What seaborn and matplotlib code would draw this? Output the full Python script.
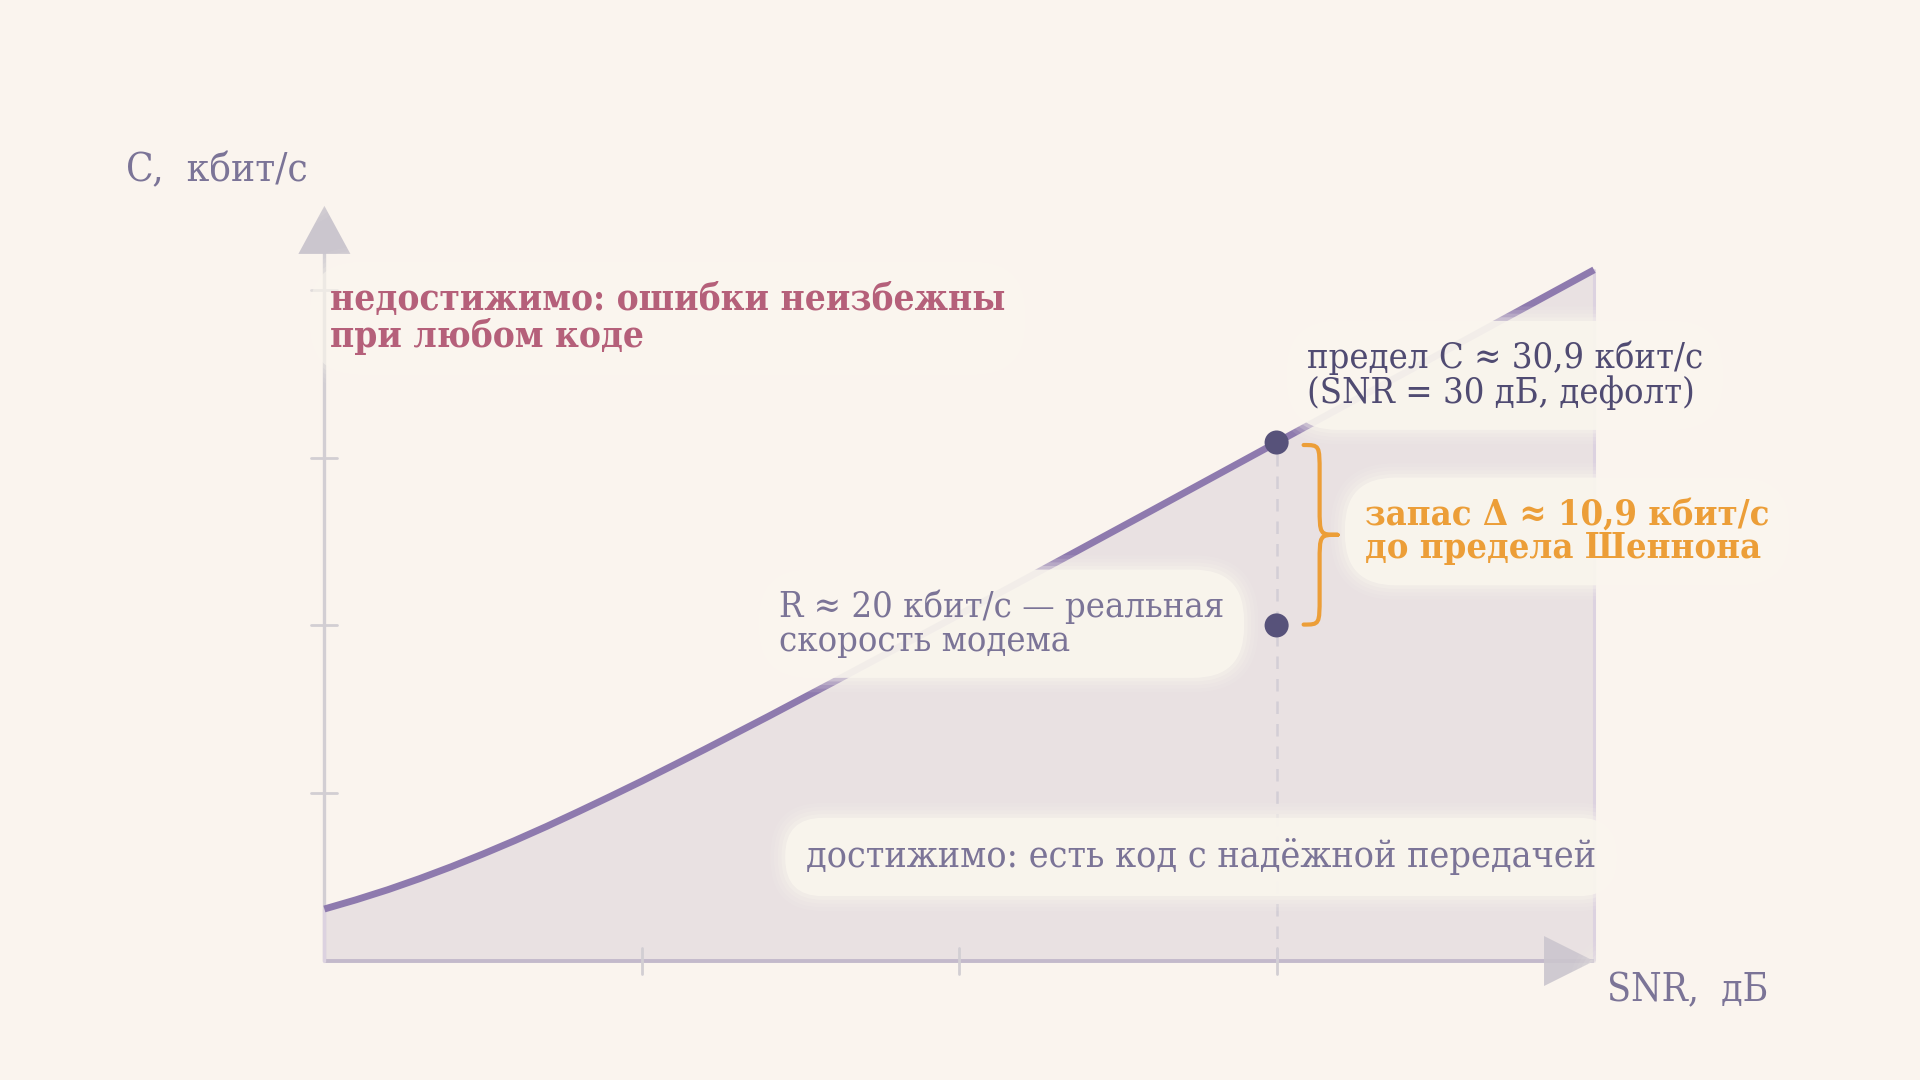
#!/usr/bin/env python3
"""Shannon limit sketch: capacity C vs SNR with the real modem rate marked."""
import matplotlib
matplotlib.use('Agg')
import numpy as np
import pandas as pd
import seaborn as sns
import matplotlib.pyplot as plt
from matplotlib.patches import Polygon, PathPatch
from matplotlib.path import Path

# data
snr_db = [0, 1, 2, 3, 4, 5, 6, 7, 8, 9, 10, 11, 12, 13, 14, 15, 16, 18, 20, 22, 24,
          26, 28, 30, 32, 34, 36, 38, 40]
capacity_kbps = [3.10, 3.65, 4.25, 4.91, 5.62, 6.38, 7.18, 8.02, 8.90, 9.80, 10.72, 11.67,
                 12.63, 13.61, 14.59, 15.59, 16.59, 18.61, 20.64, 22.68, 24.73, 26.78,
                 28.84, 30.90, 32.96, 35.01, 37.07, 39.13, 41.19]
x_ticks = [10, 20, 30]
y_ticks = [10, 20, 30, 40]
point_snr = [30, 30]
point_rate = [30.9, 20.0]
snr_default = 30
c_default = 30.9
r_modem = 20.0

BG = '#FAF4EE'
GLOW = '#FAF6EE'
FILL = '#E9E1E2'
FILL_EDGE = '#DCD2E0'
CURVE = '#8E7AAE'
DOT = '#57527A'
AXIS = '#D2CED3'
XAXIS = '#C3B9CB'
ARROW = '#CBC6CE'
RED = '#B5607A'
ORANGE = '#EC9E38'
MUTED = '#7B7497'
DARK = '#504B72'

sns.set_theme(style='white', rc={'figure.facecolor': BG, 'axes.facecolor': BG})
plt.rcParams['font.family'] = ['DejaVu Serif', 'DejaVu Sans']
plt.rcParams['font.stretch'] = 'condensed'

fig = plt.figure(figsize=(19.2, 10.8), dpi=100)
ax = fig.add_axes([0, 0, 1, 1])
ax.set_xlim(-10.22, 50.27)
ax.set_ylim(-7.09, 57.27)
ax.axis('off')

# pixel -> data helpers for decorations
PX_X = 31.74
PX_Y = 16.78


def dx(px):
    return px / PX_X


def dy(px):
    return px / PX_Y


df = pd.DataFrame({'snr': snr_db, 'c': capacity_kbps})

# achievable region
ax.fill_between(df['snr'], 0, df['c'], color=FILL, lw=0, zorder=1)
ax.plot([snr_db[-1], snr_db[-1]], [0, capacity_kbps[-1]], color=FILL_EDGE, lw=2.2, zorder=1.5)

# axes
y_top = 45.0
ax.plot([0, 0], [0, y_top - dy(40)], color=AXIS, lw=2.4, zorder=2, solid_capstyle='butt')
ax.plot([0, 0], [0, capacity_kbps[0]], color=FILL_EDGE, lw=2.4, zorder=2.1)
ax.add_patch(Polygon([(0, y_top), (-dx(26), y_top - dy(48)), (dx(26), y_top - dy(48))],
                     closed=True, color=ARROW, lw=0, zorder=2))
ax.plot([0, snr_db[-1]], [0, 0], color=XAXIS, lw=2.8, zorder=2, solid_capstyle='butt')
x_tip = snr_db[-1]
ax.add_patch(Polygon([(x_tip, 0), (x_tip - dx(50), dy(25)), (x_tip - dx(50), -dy(25))],
                     closed=True, color=ARROW, alpha=0.9, lw=0, zorder=2.2))
for t in y_ticks:
    ax.plot([-dx(13), dx(13)], [t, t], color=AXIS, lw=2, zorder=2)
for t in x_ticks:
    ax.plot([t, t], [-dy(13), dy(13)], color=AXIS, lw=2, zorder=2)

# vertical guide at default SNR
ax.plot([snr_default, snr_default], [0, c_default], color='#D3CED6', lw=1.8,
        linestyle=(0, (5, 4)), zorder=2)

# capacity curve
sns.lineplot(data=df, x='snr', y='c', ax=ax, color=CURVE, lw=5, zorder=3,
             solid_capstyle='butt', legend=False)
ax.set_xlabel('')
ax.set_ylabel('')


def label(x, y, s, color, size, weight='normal', glow=1.0, rs=1.0):
    if glow:
        layers = [(0.95, 0.10), (0.85, 0.14), (0.75, 0.2), (0.65, 0.3), (0.55, 0.85)]
        for pad, a in layers:
            ax.text(x, y, s, fontsize=size, fontweight=weight, color='none', ha='left',
                    va='center', linespacing=1.0, zorder=4,
                    bbox=dict(boxstyle=f'round,pad={pad},rounding_size={rs + pad - 0.55}',
                              fc=GLOW, ec='none', alpha=a * glow))
    ax.text(x, y, s, fontsize=size, fontweight=weight, color=color, ha='left', va='center',
            linespacing=1.0, zorder=5)


label(-6.25, 47.1, 'C,  кбит/с', MUTED, 29, glow=0.5)
label(0.17, 38.3, 'недостижимо: ошибки неизбежны\nпри любом коде', RED, 26.5, weight='bold',
      glow=0.6, rs=1.4)
label(30.95, 34.9, 'предел C ≈ 30,9 кбит/с\n(SNR = 30 дБ, дефолт)', DARK, 26, rs=1.4)
label(32.78, 25.6, 'запас Δ ≈ 10,9 кбит/с\nдо предела Шеннона', ORANGE, 26, weight='bold',
      rs=1.4)
label(14.32, 20.1, 'R ≈ 20 кбит/с — реальная\nскорость модема', MUTED, 26, rs=1.4)
label(15.17, 6.2, 'достижимо: есть код с надёжной передачей', MUTED, 27, rs=1.0)
label(40.4, -1.8, 'SNR,  дБ', MUTED, 28, glow=0.5)

# brace between real rate and the limit
x0 = snr_default + dx(27)
xm = x0 + dx(16)
xt = x0 + dx(34)
yt = c_default - 0.15
yb = r_modem + 0.05
ym = (yt + yb) / 2
r = dy(28)
verts = [(x0, yt), (xm, yt), (xm, yt), (xm, yt - r),
         (xm, ym + r),
         (xm, ym), (xm, ym), (xt, ym),
         (xm, ym), (xm, ym), (xm, ym - r),
         (xm, yb + r),
         (xm, yb), (xm, yb), (x0, yb)]
codes = [Path.MOVETO, Path.CURVE4, Path.CURVE4, Path.CURVE4,
         Path.LINETO,
         Path.CURVE4, Path.CURVE4, Path.CURVE4,
         Path.CURVE4, Path.CURVE4, Path.CURVE4,
         Path.LINETO,
         Path.CURVE4, Path.CURVE4, Path.CURVE4]
ax.add_patch(PathPatch(Path(verts, codes), fc='none', ec=ORANGE, lw=3.0, zorder=6,
                       capstyle='round', joinstyle='round'))

# points: limit at default SNR and real modem rate
sns.scatterplot(x=point_snr, y=point_rate, ax=ax, s=300, color=DOT, edgecolor='none',
                zorder=7, legend=False)
ax.set_xlabel('')
ax.set_ylabel('')
ax.set_xlim(-10.22, 50.27)
ax.set_ylim(-7.09, 57.27)

fig.savefig('out.png', dpi=100, facecolor=BG)
